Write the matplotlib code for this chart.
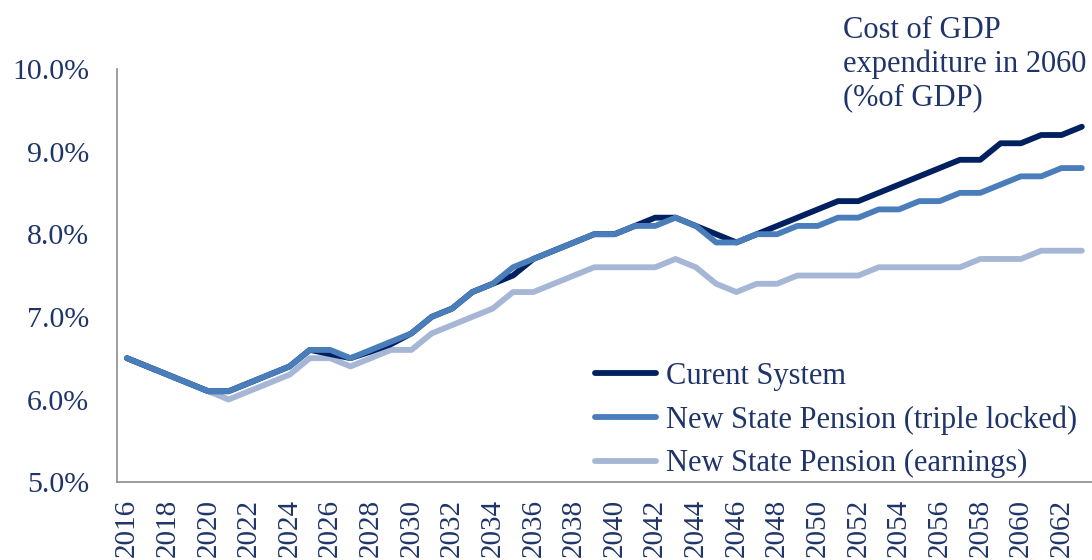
import numpy as np
import matplotlib
matplotlib.use("Agg")
import matplotlib.pyplot as plt

# ── data (% of GDP) ──────────────────────────────────────────────────────────
years = list(range(2016, 2064))

current_system = [6.5, 6.4, 6.3, 6.2, 6.1, 6.1, 6.2, 6.3, 6.4, 6.6,
                  6.55, 6.5, 6.58, 6.67, 6.8, 7.0, 7.1, 7.3, 7.4, 7.5,
                  7.7, 7.8, 7.9, 8.0, 8.0, 8.1, 8.2, 8.2, 8.1, 8.0,
                  7.9, 8.0, 8.1, 8.2, 8.3, 8.4, 8.4, 8.5, 8.6, 8.7,
                  8.8, 8.9, 8.9, 9.1, 9.1, 9.2, 9.2, 9.3]

triple_locked = [6.5, 6.4, 6.3, 6.2, 6.1, 6.1, 6.2, 6.3, 6.4, 6.6,
                 6.6, 6.5, 6.6, 6.7, 6.8, 7.0, 7.1, 7.3, 7.4, 7.6,
                 7.7, 7.8, 7.9, 8.0, 8.0, 8.1, 8.1, 8.2, 8.1, 7.9,
                 7.9, 8.0, 8.0, 8.1, 8.1, 8.2, 8.2, 8.3, 8.3, 8.4,
                 8.4, 8.5, 8.5, 8.6, 8.7, 8.7, 8.8, 8.8]

earnings = [6.5, 6.4, 6.3, 6.2, 6.1, 6.0, 6.1, 6.2, 6.3, 6.5,
            6.5, 6.4, 6.5, 6.6, 6.6, 6.8, 6.9, 7.0, 7.1, 7.3,
            7.3, 7.4, 7.5, 7.6, 7.6, 7.6, 7.6, 7.7, 7.6, 7.4,
            7.3, 7.4, 7.4, 7.5, 7.5, 7.5, 7.5, 7.6, 7.6, 7.6,
            7.6, 7.6, 7.7, 7.7, 7.7, 7.8, 7.8, 7.8]

series_labels = ["Curent System",
                 "New State Pension (triple locked)",
                 "New State Pension (earnings)"]
y_ticks = [5.0, 6.0, 7.0, 8.0, 9.0, 10.0]
note = "Cost of GDP\nexpenditure in 2060\n(%of GDP)"

# ── style ────────────────────────────────────────────────────────────────────
TXT = "#1f3468"
C_DARK, C_MID, C_LIGHT = "#002060", "#4a7ebb", "#a6b7d6"
plt.rcParams["font.family"] = ["Liberation Serif", "DejaVu Serif"]

fig = plt.figure(figsize=(10.92, 5.6), dpi=100)
ax = fig.add_axes([0.107, 0.139, 0.893, 0.738])

x = np.arange(len(years))
ax.plot(x, earnings, color=C_LIGHT, lw=4.2, solid_capstyle="round",
        solid_joinstyle="round", label=series_labels[2], zorder=2)
ax.plot(x, current_system, color=C_DARK, lw=4.2, solid_capstyle="round",
        solid_joinstyle="round", label=series_labels[0], zorder=3)
ax.plot(x, triple_locked, color=C_MID, lw=4.2, solid_capstyle="round",
        solid_joinstyle="round", label=series_labels[1], zorder=4)

ax.set_xlim(-0.5, len(years) - 0.5)
ax.set_ylim(5.0, 10.0)
ax.set_yticks(y_ticks)
ax.set_yticklabels([f"{v:.1f}%" for v in y_ticks], fontsize=21.5, color=TXT)
ax.set_xticks(x[::2])
ax.set_xticklabels([str(y) for y in years[::2]], rotation=90,
                   fontsize=21, color=TXT)
ax.tick_params(axis="both", length=0)
ax.tick_params(axis="y", pad=20)
ax.tick_params(axis="x", pad=12)

for side in ("top", "right"):
    ax.spines[side].set_visible(False)
for side in ("left", "bottom"):
    ax.spines[side].set_color("#8c8c8c")
    ax.spines[side].set_linewidth(1.2)

# legend in the reference order
h, l = ax.get_legend_handles_labels()
order = [1, 2, 0]
leg = ax.legend([h[i] for i in order], [l[i] for i in order],
                loc="lower right", bbox_to_anchor=(1.0, -0.028), frameon=False,
                fontsize=22, handlelength=2.0, handletextpad=0.3,
                labelspacing=0.47, borderaxespad=0.1)
for t in leg.get_texts():
    t.set_color(TXT)

fig.text(0.772, 0.972, note, ha="left", va="top", fontsize=22,
         color=TXT, linespacing=1.2)

fig.savefig("out.png", dpi=100)
